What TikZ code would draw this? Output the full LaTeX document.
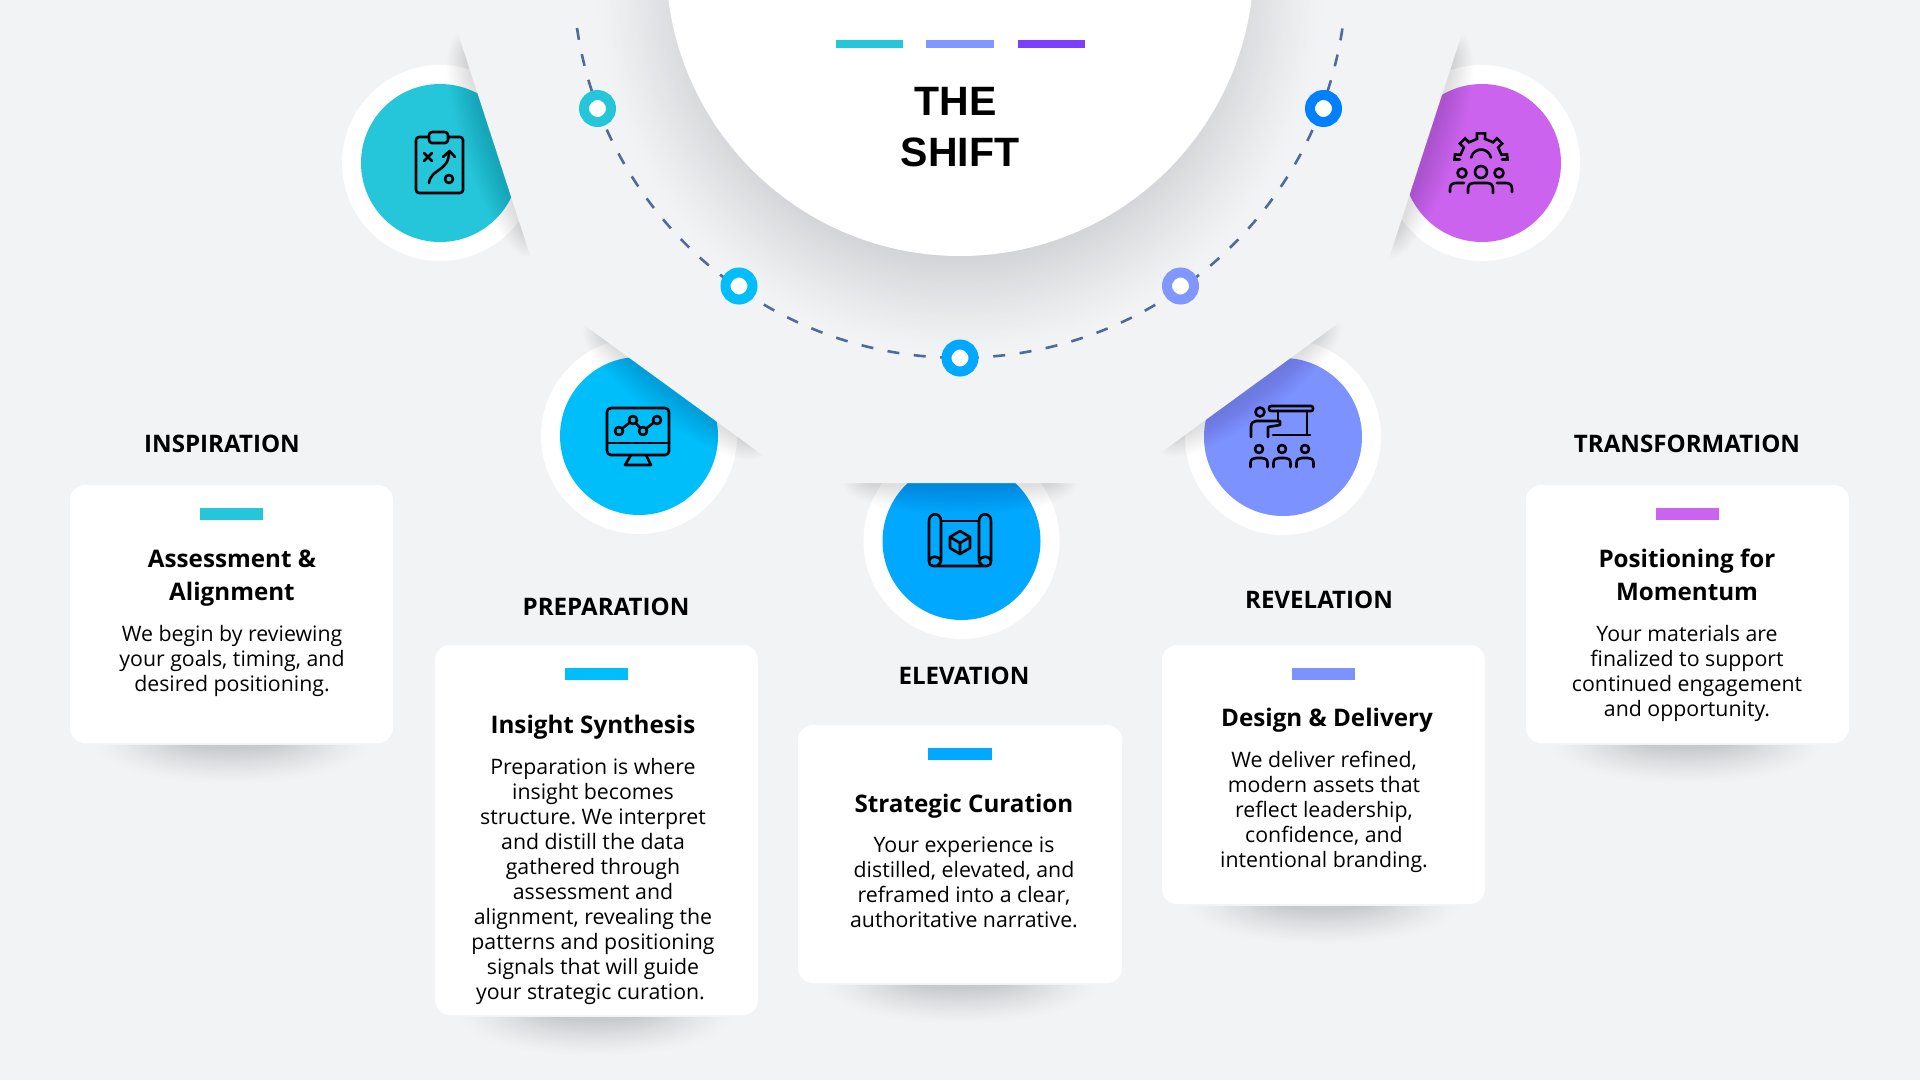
\documentclass[tikz,border=0pt]{standalone}
\usepackage{fontspec}
\setmainfont{Open Sans}
\newfontfamily\titlefont{Liberation Sans}
\frenchspacing
\definecolor{bgcol}{HTML}{F2F3F5}
\definecolor{cteal}{HTML}{26C6DA}
\definecolor{csky}{HTML}{00BEFA}
\definecolor{cazure}{HTML}{00A8FF}
\definecolor{cperi}{HTML}{7C93FF}
\definecolor{corchid}{HTML}{CB63EE}
\definecolor{cblue}{HTML}{0080FF}
\definecolor{cperidot}{HTML}{8097FF}
\definecolor{cviolet}{HTML}{7C3FFF}
\definecolor{dashcol}{HTML}{506A9B}
\definecolor{shadowmain}{HTML}{D2D3D6}
\definecolor{shadowcard}{HTML}{C6C7CA}
\tikzset{
  x=1pt,y=-1pt,
  card/.style={fill=white,rounded corners=15pt},
  iconline/.style={draw=black,line width=2.6pt,line cap=round,line join=round},
  headlabel/.style={font=\fontsize{24.1}{24.1}\selectfont\bfseries,anchor=base,inner sep=0pt,text=black},
  cardtitle/.style={font=\fontsize{24.2}{33}\selectfont\bfseries,anchor=base,inner sep=0pt,align=center,text=black},
  cardbody/.style={font=\fontsize{21.3}{25}\selectfont,anchor=base,inner sep=0pt,align=center,text=black},
  titletext/.style={font=\titlefont\fontsize{41}{41}\selectfont\bfseries,anchor=base,inner sep=0pt,text=black},
  ringdot/.style={circle,draw=#1,line width=10pt,fill=white,minimum size=27pt,inner sep=0pt},
}
\newcommand{\edgeshadow}[4]{%
  \foreach \i in {1,...,16}{%
    \fill[black,opacity=.008,shift={(#1,#2)},rotate=#3] (0,0) ellipse ({#4*(.74+.2*\i/16)} and {3+1.8*\i});
  }%
}
\newcommand{\cardshadow}[4]{% x-centre, card bottom, half width, name
  \begin{scope}
    \clip (#1-200,#2+2) rectangle (#1+200,#2+80);
    \foreach \i in {24,23,...,1}{%
      \pgfmathsetmacro{\tval}{\i/24}
      \pgfmathsetmacro{\pval}{100*(1-\tval)^1.25}
      \fill[shadowcard!\pval!bgcol] (#1,#2) ellipse ({#3*(.3+.7*\tval)} and {42*(.1+.9*\tval)});
    }
  \end{scope}%
}
\begin{document}
\begin{tikzpicture}
\useasboundingbox (0,0) rectangle (1920,1080);
\fill[bgcol] (0,0) rectangle (1920,1080);
% outer discs
\fill[white] (440,163) circle (98);
\fill[cteal] (440,163) circle (79);
\fill[white] (639,436) circle (98);
\fill[csky] (639,436) circle (79);
\fill[white] (961.5,541) circle (98);
\fill[cazure] (961.5,541) circle (79);
\fill[white] (1283,437) circle (98);
\fill[cperi] (1283,437) circle (79);
\fill[white] (1482,163) circle (98);
\fill[corchid] (1482,163) circle (79);
% soft shadows of the panel edges
\edgeshadow{494}{145}{-72}{125}
\edgeshadow{674}{390}{-36}{118}
\edgeshadow{960}{483}{0}{125}
\edgeshadow{1250}{387}{36}{118}
\edgeshadow{1426}{146}{72}{125}
% panel
\fill[bgcol] (444,-10) -- (543,295) -- (801,483) -- (1119,483) -- (1377,295) -- (1476,-10) -- cycle;
% central shadow
\foreach \i in {40,39,...,1}{
  \pgfmathsetmacro{\tval}{\i/40}
  \pgfmathsetmacro{\pval}{100*(1-\tval)^1.25}
  \fill[shadowmain!\pval!bgcol] (960,-10) circle ({266+100*\tval});
}
% dashed arc
\draw[dashcol,line width=2.6pt,dash pattern=on 12pt off 14.55pt] (577,28) arc[start angle=171.5,end angle=8.5,radius=387];
% dots
\node[ringdot=cteal] (dota) at (597.5,108.5) {};
\node[ringdot=csky] (dotb) at (739,286) {};
\node[ringdot=cazure] (dotc) at (960,358) {};
\node[ringdot=cperidot] (dotd) at (1180.5,286) {};
\node[ringdot=cblue] (dote) at (1323.5,108.5) {};
% central disc
\fill[white] (960,-38) circle (294);
\fill[cteal] (836,40) rectangle (903,48);
\fill[cperidot] (926,40) rectangle (994,48);
\fill[cviolet] (1018,40) rectangle (1085,48);
\node[titletext] (titlea) at (955.5,115) {THE};
\node[titletext] (titleb) at (960,166) {SHIFT};
% icon 1: clipboard
\draw[iconline,rounded corners=3pt] (416,137) rectangle (463,193);
\draw[iconline,rounded corners=3pt,fill=cteal] (429,143) -- (429,132) -- (448,132) -- (448,143) -- cycle;
\draw[iconline] (424,153) -- (432,161) (432,153) -- (424,161);
\draw[iconline] (429,183) .. controls (431,168) and (449,172) .. (449,152);
\draw[iconline] (443,157) -- (449.5,151) -- (455,157);
\draw[iconline] (449,179) circle (4);
% icon 2: monitor
\draw[iconline,rounded corners=4pt] (607,408) rectangle (669,455);
\draw[iconline] (607,443) -- (669,443);
\draw[iconline] (631,455) -- (625,465) -- (651,465) -- (646,455);
\draw[iconline] (619,431) -- (633,420) -- (643,431) -- (657,420);
\foreach \px/\py in {619/431,633/420,643/431,657/420}{\draw[iconline,fill=csky] (\px,\py) circle (4);}
% icon 3: blueprint
\draw[iconline] (941,521) -- (979,521);
\draw[iconline] (941,561) -- (941,522) -- (941,521) .. controls (941,512) and (929,512) .. (929,521) -- (929,561) .. controls (929,564) and (930,566) .. (933,566) -- (987,566) .. controls (990,566) and (991,564) .. (991,561) -- (991,521) .. controls (991,512) and (979,512) .. (979,521) -- (979,561);
\draw[iconline] (929,561) .. controls (930,555) and (940,555) .. (941,562) -- (937,566);
\draw[iconline] (991,561) .. controls (990,555) and (980,555) .. (979,562) -- (983,566);
\draw[iconline] (960,531) -- (970,537) -- (970,548) -- (960,554) -- (950,548) -- (950,537) -- cycle;
\draw[iconline] (950,537) -- (960,543) -- (970,537) (960,543) -- (960,554);
% icon 4: presenter
\draw[iconline,rounded corners=2pt] (1269,406) rectangle (1313,411);
\draw[iconline] (1307,411) -- (1307,435) (1273,435) -- (1310,435) (1278,411) -- (1278,421);
\draw[iconline] (1260,412) circle (4.5);
\draw[iconline] (1251,437) -- (1251,427) .. controls (1251,423) and (1253,421) .. (1256,421) -- (1280,421) -- (1280,425) -- (1268,427) -- (1268,437);
\foreach \hx in {1259,1282,1305}{
  \draw[iconline] (\hx,449) circle (4);
  \draw[iconline] ({\hx-8.5},467) -- ({\hx-8.5},463) .. controls ({\hx-8.5},459) and ({\hx-6},458) .. ({\hx-3},458) -- ({\hx+3},458) .. controls ({\hx+6},458) and ({\hx+8.5},459) .. ({\hx+8.5},463) -- ({\hx+8.5},467);
}
% icon 5: gear and team
\begin{scope}[shift={(1481,159.5)}]
  \draw[iconline,line join=miter] (180:21) -- (180:26.5) -- (191:26.5) -- (193:21) -- (215:21) -- (217:26.5) -- (233:26.5) -- (235:21) -- (259:21) -- (261:26.5) -- (279:26.5) -- (281:21) -- (305:21) -- (307:26.5) -- (323:26.5) -- (325:21) -- (347:21) -- (349:26.5) -- (360:26.5) -- (360:21);
  \draw[iconline] (191:10) arc[start angle=191,end angle=349,radius=10];
\end{scope}
\draw[iconline] (1481,172) circle (6);
\draw[iconline] (1462,173) circle (4.5);
\draw[iconline] (1499,173) circle (4.5);
\draw[iconline] (1468,193) -- (1468,189) .. controls (1468,185) and (1470,183) .. (1474,183) -- (1487,183) .. controls (1491,183) and (1493,185) .. (1493,189) -- (1493,193);
\draw[iconline] (1450,192) -- (1450,189) .. controls (1450,185) and (1452,183) .. (1456,183) -- (1464,183);
\draw[iconline] (1512,192) -- (1512,189) .. controls (1512,185) and (1510,183) .. (1506,183) -- (1497,183);
% cards
\cardshadow{232}{743}{140}{a}
\cardshadow{596}{1015}{140}{b}
\cardshadow{960}{983}{140}{c}
\cardshadow{1323}{904}{140}{d}
\cardshadow{1687}{743}{140}{e}
\fill[card] (70,485) rectangle (393,743);
\fill[card] (435,645) rectangle (758,1015);
\fill[card] (798,725) rectangle (1122,983);
\fill[card] (1162,645) rectangle (1485,904);
\fill[card] (1526,485) rectangle (1849,743);
\fill[cteal] (200,508) rectangle (263,520);
\fill[csky] (565,668) rectangle (628,680);
\fill[cazure] (928,748) rectangle (992,760);
\fill[cperi] (1292,668) rectangle (1355,680);
\fill[corchid] (1656,508) rectangle (1719,520);
% labels
\node[headlabel] (heada) at (222,452) {INSPIRATION};
\node[headlabel] (headb) at (606,615) {PREPARATION};
\node[headlabel] (headc) at (964,684.5) {ELEVATION};
\node[headlabel] (headd) at (1319,608.5) {REVELATION};
\node[headlabel] (heade) at (1687,452) {TRANSFORMATION};
\node[cardtitle] (titlecarda) at (232,600) {Assessment \&\\Alignment};
\node[cardbody] (bodya) at (232,691) {We begin by reviewing\\your goals, timing, and\\desired positioning.};
\node[cardtitle] (titlecardb) at (593,733.5) {Insight Synthesis};
\node[cardbody] (bodyb) at (593,999) {Preparation is where\\insight becomes\\structure. We interpret\\and distill the data\\gathered through\\assessment and\\alignment, revealing the\\patterns and positioning\\signals that will guide\\your strategic curation.\hspace*{5pt}};
\node[cardtitle] (titlecardc) at (964,812.5) {Strategic Curation};
\node[cardbody] (bodyc) at (964,927) {Your experience is\\distilled, elevated, and\\reframed into a clear,\\authoritative narrative.};
\node[cardtitle] (titlecardd) at (1327,726.5) {Design \& Delivery};
\node[cardbody] (bodyd) at (1324,867) {We deliver refined,\\modern assets that\\reflect leadership,\\confidence, and\\intentional branding.};
\node[cardtitle] (titlecarde) at (1687,600) {Positioning for\\Momentum};
\node[cardbody] (bodye) at (1687,716) {Your materials are\\finalized to support\\continued engagement\\and opportunity.};
\end{tikzpicture}
\end{document}
